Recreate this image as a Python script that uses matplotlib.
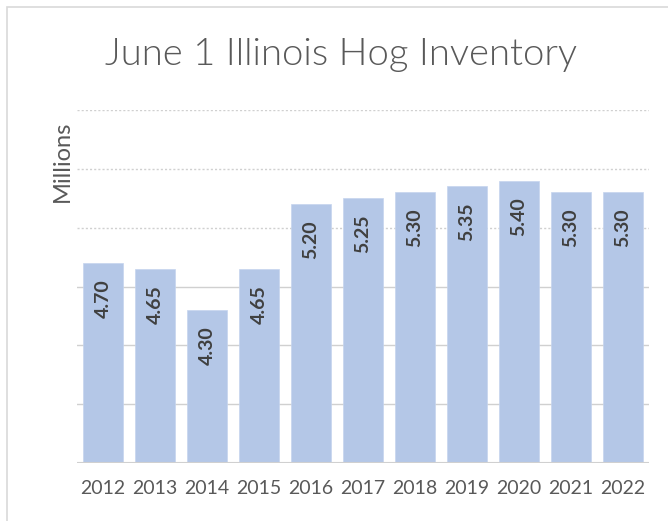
import matplotlib
matplotlib.use("Agg")
import matplotlib.pyplot as plt
from matplotlib.patches import Rectangle

years = ["2012", "2013", "2014", "2015", "2016", "2017", "2018", "2019", "2020", "2021", "2022"]
values = [4.70, 4.65, 4.30, 4.65, 5.20, 5.25, 5.30, 5.35, 5.40, 5.30, 5.30]
labels = ["4.70", "4.65", "4.30", "4.65", "5.20", "5.25", "5.30", "5.35", "5.40", "5.30", "5.30"]
grid_levels = [3.5, 4.0, 4.5, 5.0, 5.5, 6.0]

W, H = 668, 521
fig = plt.figure(figsize=(W / 100, H / 100), dpi=100)
fig.patch.set_facecolor("white")

# chart frame (cropped on right/bottom)
frame = Rectangle((7 / W, -0.1), 1.2, (H - 7) / H + 0.1, transform=fig.transFigure,
                  fill=False, edgecolor="#d9d9d9", linewidth=1.2)
fig.add_artist(frame)

left, right = 77, 649
top, bottom = 110, 463
ax = fig.add_axes([left / W, 1 - bottom / H, (right - left) / W, (bottom - top) / H])
ax.set_xlim(-0.5, len(years) - 0.5)
ax.set_ylim(3.0, 6.0)

for g in grid_levels:
    ls = (0, (1.5, 1.5)) if g >= 5.0 else "-"
    ax.axhline(g, color="#d0d0d0", linewidth=1.0, linestyle=ls, zorder=0)
ax.axhline(3.0, color="#d0d0d0", linewidth=1.5, zorder=3)

x = list(range(len(years)))
ax.bar(x, [v - 3.0 for v in values], bottom=3.0, width=0.77, color="#b4c7e7",
       edgecolor="#c5d4ee", linewidth=0.5, zorder=2)

for xi, v, lab in zip(x, values, labels):
    ax.text(xi, v - 0.14, lab, rotation=90, ha="center", va="top",
            fontsize=14, fontweight="bold", color="#404040", family="Lato", zorder=4)

ax.set_xticks(x)
ax.set_xticklabels(years, fontsize=14, color="#595959", family="Lato")
ax.tick_params(axis="x", length=0, pad=12)
ax.set_yticks([])
for s in ax.spines.values():
    s.set_visible(False)

fig.text(341 / W, 1 - 55 / H, "June 1 Illinois Hog Inventory", ha="center", va="center",
         fontsize=27.5, color="#595959", family="Lato", fontweight=300)
fig.text(62 / W, 1 - 161 / H, "Millions", rotation=90, ha="center", va="center",
         fontsize=17, color="#595959", family="Lato")

fig.savefig("out.png", dpi=100, facecolor="white")
